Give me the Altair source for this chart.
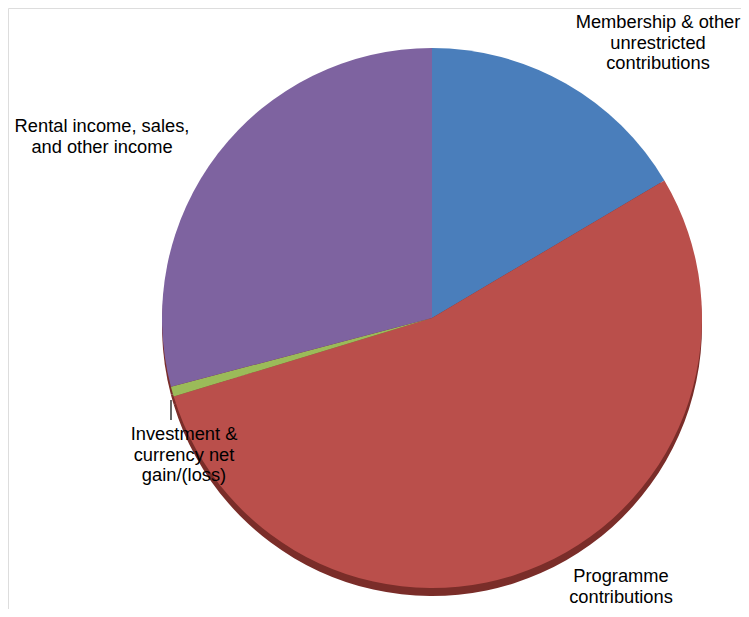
import altair as alt
import pandas as pd

categories = ["Membership & other unrestricted contributions",
              "Programme contributions",
              "Investment & currency net gain/(loss)",
              "Rental income, sales, and other income"]
values = [16.5, 53.8, 0.6, 29.1]
colors = ["#4A7EBB", "#BA4F4B", "#9BBB59", "#7E63A0"]

df = pd.DataFrame({"category": categories, "value": values, "idx": list(range(len(values)))})

CX, CY, R = 424, 310, 270

base = alt.Chart(df)

shadow = base.mark_arc(outerRadius=R, color="#7A2D29", strokeWidth=0).encode(
    theta=alt.Theta("value:Q", stack=True),
    order=alt.Order("idx:Q"),
    x=alt.value(CX), y=alt.value(CY + 8),
)

pie = base.mark_arc(outerRadius=R, strokeWidth=0).encode(
    theta=alt.Theta("value:Q", stack=True),
    order=alt.Order("idx:Q"),
    color=alt.Color("category:N", scale=alt.Scale(domain=categories, range=colors), legend=None),
    x=alt.value(CX), y=alt.value(CY),
)

FONT = "Liberation Sans"
FS = 18.3
LH = 20.5

def label(lines, x, y):
    return alt.Chart(pd.DataFrame({"a": [0]})).mark_text(
        text=lines, font=FONT, fontSize=FS, lineHeight=LH, align="center",
        baseline="alphabetic", color="#000000"
    ).encode(x=alt.value(x), y=alt.value(y))

lab1 = label(["Membership & other", "unrestricted", "contributions"], 650, 20)
lab2 = label(["Rental income, sales,", "and other income"], 94, 124)
lab3 = label(["Investment &", "currency net", "gain/(loss)"], 176, 432)
lab4 = label(["Programme", "contributions"], 613, 574)

leader = alt.Chart(pd.DataFrame({"a": [0]})).mark_rule(color="#000000", strokeWidth=1.2).encode(
    x=alt.value(163), y=alt.value(392), y2=alt.value(412)
)

chart = alt.layer(shadow, pie, leader, lab1, lab2, lab3, lab4).properties(
    width=733, height=601, padding=0,
    autosize=alt.AutoSizeParams(type="fit", contains="padding"),
).configure_view(stroke="transparent", strokeWidth=0).configure(background="#FFFFFF")

chart.save("out.html", embed_options={"renderer": "svg", "actions": False})
